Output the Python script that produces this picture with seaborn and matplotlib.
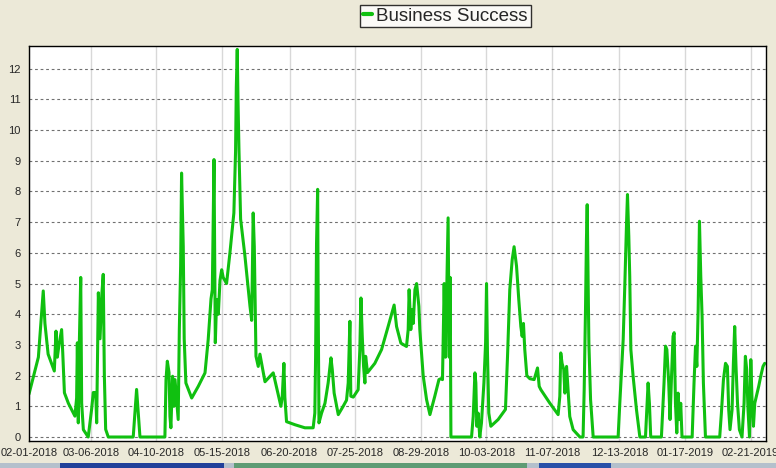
import pandas as pd
import matplotlib
matplotlib.use("Agg")
import matplotlib.pyplot as plt
import seaborn as sns
from matplotlib.patches import Rectangle
from matplotlib.ticker import AutoMinorLocator, MultipleLocator

# Serie "Business Success": dias desde 01-02-2018 e valores
start = pd.Timestamp("2018-02-01")

days = [
    0, 5, 7.6, 8.5, 10.2, 13.5, 14.4, 15.1, 16, 17.4, 18, 18.9, 21, 24.5, 25.4, 25.8, 26.3,
    26.9, 27.6, 28.1, 29, 31.6, 33.4, 34.3, 35.6, 36.1, 37, 37.9, 38.8, 39.6, 40.2, 40.9,
    42.3, 55.6, 57.4, 59.2,
    72.5, 73.1, 73.8, 74.7, 75.2, 75.7, 76.6, 77.3, 77.9, 78.8, 79.6, 80.2, 80.9, 81.4,
    82.3, 82.8, 83.7, 86.8, 90.3, 93.9, 95.6, 97.1, 97.8, 98.7, 99.4, 100.1, 101.0, 101.9,
    102.8, 103.6, 105.4, 107.2, 109.3, 110.2, 110.6, 111.1, 111.5, 112.0, 112.9, 115.2,
    117.9, 118.8, 119.6, 120.2, 121.1, 122.3, 123.2, 125.9, 130.3,
    134.4, 135.1, 136.0, 136.5, 137.4, 141.9, 147.2, 151.6, 152.5, 152.9, 153.4, 154.0,
    154.3, 154.7, 156.1, 157.9, 159.6, 161.1, 161.8, 162.8, 165.0, 167.6, 169.4, 170.3,
    171.2, 171.7, 173.0, 175.6, 176.5, 177.1, 177.8, 178.5, 179.2, 179.6, 180.6, 184.5,
    188.1, 191.6, 194.8, 196.1, 198.4, 201.4, 202.3, 202.8, 203.7, 204.4, 205.0, 205.9,
    206.8,
    208.0, 208.5, 210.3, 212.1, 213.9, 216.5, 218.7, 219.7, 220.6, 221.5, 222.2, 222.8,
    223.6, 224.2, 224.7, 225.1, 236.1, 237.0, 237.9, 238.4, 238.9, 239.6, 240.5, 241.4,
    242.7, 243.6, 244.1, 244.6, 245.3, 246.4, 250.3, 254.2, 255.3, 256.5, 257.8, 258.8,
    260.1, 261.3, 262.4, 263.1, 263.8, 264.5, 265.6, 267.2, 269.5, 271.3, 272.2, 273.1,
    277.9, 282.3,
    283.2, 283.7, 284.4, 285.3, 285.9, 286.8, 287.6, 288.5, 290.3, 293.9, 295.6, 296.2,
    296.9, 297.4, 297.8, 298.3, 298.7, 299.6, 301.0, 314.3, 315.2, 317.0, 317.9, 318.8,
    319.3, 320.0, 320.5, 321.1, 322.3, 324.1, 325.9, 328.9, 329.6, 330.3, 331.0, 331.7,
    337.4, 338.8, 339.6, 340.3, 341.3, 342.0, 342.8, 343.6, 344.2, 344.9, 345.6, 346.3,
    347.0, 347.7, 348.4, 353.8, 354.8, 355.6, 356.3, 357.0, 357.7, 358.4, 359.1, 359.8,
    360.9, 368.5, 369.4, 370.5, 371.6, 372.6, 373.3, 374.0, 375.1, 375.8, 376.5, 377.2,
    378.0, 379.0, 380.4, 381.5, 382.2, 382.9, 383.6, 384.4, 385.1, 385.8, 386.5, 387.2,
    388.1, 389.3, 390.4, 391.6, 392.5,
]

success = [
    1.4, 2.6, 4.76, 3.7, 2.7, 2.15, 3.45, 2.6, 3.0, 3.5, 2.75, 1.44, 1.1, 0.68, 1.27, 3.07, 0.46,
    3.2, 5.2, 1.1, 0.24, 0, 0.9, 1.45, 1.45, 0.46, 4.7, 3.2, 4.6, 5.3, 2.0, 0.25,
    0, 0, 1.55, 0,
    0, 1.87, 2.47, 2.1, 0.67, 0.3, 1.98, 1.0, 1.87, 1.2, 0.57, 3.5, 5.57, 8.6,
    6.2, 3.2, 1.76, 1.27, 1.65, 2.09, 3.17, 4.5, 4.8, 9.04, 3.07, 4.48, 4.0, 5.1,
    5.45, 5.2, 5.0, 6.0, 7.3, 9.3, 11.4, 12.63, 11.0, 9.4, 7.1, 5.9,
    4.26, 3.8, 7.3, 6.2, 2.63, 2.3, 2.7, 1.8, 2.09,
    1.0, 1.3, 2.4, 1.3, 0.5, 0.4, 0.3, 0.3, 0.78, 2.6, 6.3, 8.07,
    4.26, 0.46, 0.78, 1.1, 1.76, 2.58, 2.2, 1.43, 0.73, 1.0, 1.2, 1.76,
    3.77, 1.33, 1.3, 1.54, 2.85, 4.53, 3.28, 2.3, 1.76, 2.63, 2.1, 2.4,
    2.85, 3.6, 4.3, 3.6, 3.06, 2.95, 3.5, 4.8, 3.5, 4.15, 3.7, 4.8,
    5.0,
    4.26, 3.5, 2.0, 1.22, 0.73, 1.33, 1.87, 1.9, 1.87, 5.0, 2.6, 4.5,
    7.14, 2.6, 5.2, 0, 0, 0.67, 2.09, 1.76, 0.35, 0.78, 0, 0.46,
    1.76, 3.07, 5.0, 2.74, 0.78, 0.35, 0.57, 0.9, 2.63, 4.8, 5.78, 6.2,
    5.57, 4.48, 3.6, 3.28, 3.7, 2.85, 2.0, 1.9, 1.87, 2.25, 1.65, 1.54,
    1.1, 0.73,
    1.33, 2.74, 2.4, 2.2, 1.43, 2.3, 1.54, 0.67, 0.24, 0, 0, 1.54,
    4.15, 6.43, 7.57, 5.0, 3.07, 1.22, 0, 0, 1.1, 3.17, 5.0, 6.98,
    7.9, 6.54, 5.24, 2.85, 1.98, 0.89, 0, 0, 0.89, 1.76, 1.1, 0,
    0, 1.76, 2.96, 2.85, 1.76, 0.57, 1.98, 3.28, 3.4, 1.1, 0.13, 1.43,
    0.57, 1.1, 0, 0, 1.76, 2.96, 2.3, 4.15, 7.03, 5.24, 3.93, 1.76,
    0, 0, 0.78, 1.87, 2.4, 2.3, 0.89, 0.24, 0.89, 2.4, 3.6, 2.3,
    1.1, 0.24, 0, 1.1, 2.63, 2.2, 0.89, 0, 2.52, 1.1, 0.35, 1.1,
    1.33, 1.65, 1.98, 2.3, 2.4,
]

tick_dates = ["2018-02-01", "2018-03-06", "2018-04-10", "2018-05-15", "2018-06-20",
              "2018-07-25", "2018-08-29", "2018-10-03", "2018-11-07", "2018-12-13",
              "2019-01-17", "2019-02-21"]

df = pd.DataFrame({"Data": start + pd.to_timedelta(days, unit="D"),
                   "Business Success": success})

sns.set_style("white")
plt.rcParams["font.family"] = ["Liberation Sans", "DejaVu Sans"]

fig = plt.figure(figsize=(7.76, 4.68), dpi=100, facecolor="#ECE9D8")
ax = fig.add_axes([29 / 776, 1 - 441 / 468, 737 / 776, 395 / 468])
ax.set_facecolor("white")

sns.lineplot(data=df, x="Data", y="Business Success", ax=ax, color="#10C010",
             linewidth=2.2, label="Business Success", legend=False)

ax.set_xlim(start, start + pd.Timedelta(days=393.2))
ax.set_ylim(-0.13, 12.74)

ticks = pd.to_datetime(tick_dates)
ax.set_xticks(ticks)
ax.set_xticklabels([t.strftime("%m-%d-%Y") for t in ticks], fontsize=8)
ax.yaxis.set_major_locator(MultipleLocator(1))
ax.yaxis.set_minor_locator(AutoMinorLocator(5))
ax.tick_params(axis="y", which="major", labelsize=8, length=4, width=0.8, pad=2)
ax.tick_params(axis="y", which="minor", length=2, width=0.6)
ax.tick_params(axis="x", which="major", length=3, width=0.8, pad=2)

for t in ticks:
    ax.axvline(t, color="#D8D8D8", linewidth=1.0, zorder=0)
ax.yaxis.grid(True, color="#707070", linestyle=(0, (2.5, 2.5)), linewidth=0.8)
ax.set_axisbelow(True)

for s in ax.spines.values():
    s.set_color("black")
    s.set_linewidth(1.0)

ax.set_xlabel("")
ax.set_ylabel("")

h, l = ax.get_legend_handles_labels()
leg = fig.legend(h, l, loc="center", bbox_to_anchor=(445.5 / 776, 1 - 16 / 468),
                 fontsize=13.5, frameon=True, fancybox=False, handlelength=0.45,
                 handletextpad=0.25, borderpad=0.15, borderaxespad=0)
leg.get_frame().set_edgecolor("black")
leg.get_frame().set_linewidth(1.0)
leg.get_frame().set_facecolor("white")
for ln in leg.get_lines():
    ln.set_linewidth(3)

# faixa inferior da janela (barra de tarefas cortada na captura)
fig.patches.append(Rectangle((0, 0), 1, 5 / 468, transform=fig.transFigure,
                             facecolor="#B4C0CC", edgecolor="none"))
for x0, x1, c in [(60, 224, "#21409A"), (234, 527, "#5E9C74"), (539, 611, "#2850A8")]:
    fig.patches.append(Rectangle((x0 / 776, 0), (x1 - x0) / 776, 5 / 468,
                                 transform=fig.transFigure, facecolor=c, edgecolor="none"))

fig.savefig("out.png", dpi=100, facecolor=fig.get_facecolor())
